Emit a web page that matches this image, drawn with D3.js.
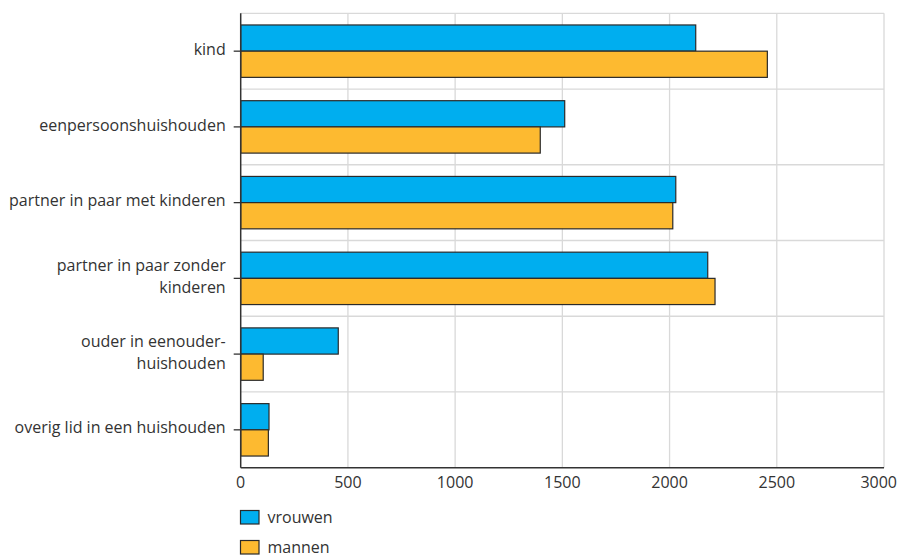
<!DOCTYPE html>
<html>
<head>
<meta charset="utf-8">
<script src="https://cdn.jsdelivr.net/npm/d3@7"></script>
<style>
  html, body { margin: 0; padding: 0; background: #fff; }
  svg { display: block; font-family: "Open Sans", "Noto Sans", sans-serif; }
</style>
</head>
<body>
<svg id="chart" width="899" height="557"></svg>
<script>
const categories = [
  "kind",
  "eenpersoonshuishouden",
  "partner in paar met kinderen",
  "partner in paar zonder\nkinderen",
  "ouder in eenouder-\nhuishouden",
  "overig lid in een huishouden"
];
const seriesNames = ["vrouwen", "mannen"];
const vrouwen = [2122, 1511, 2029, 2178, 455, 132];
const mannen  = [2456, 1397, 2015, 2212, 105, 129];
const xTicks = [0, 500, 1000, 1500, 2000, 2500, 3000];
const colors = ["#00AEEF", "#FDBA30"];

const svg = d3.select("#chart");
const plotL = 240.7, plotR = 884, plotT = 13.3, plotB = 467.7;

const x = d3.scaleLinear().domain([0, 3000]).range([plotL, plotR]);
const pInner = 0.308;
const y = d3.scaleBand().domain(categories).range([plotT, plotB])
  .paddingInner(pInner).paddingOuter(pInner / 2);
const ySub = d3.scaleBand().domain(seriesNames).range([0, y.bandwidth()]);

// gridlines
const grid = svg.append("g");
grid.selectAll("line.v").data(xTicks.slice(1)).join("line")
  .attr("x1", d => x(d)).attr("x2", d => x(d))
  .attr("y1", plotT).attr("y2", plotB)
  .attr("stroke", "#d9d9d9").attr("stroke-width", 1.3);
const boundaries = categories.map(c => y(c) - y.step() * pInner / 2);
grid.selectAll("line.h").data(boundaries).join("line")
  .attr("x1", plotL).attr("x2", plotR)
  .attr("y1", d => d).attr("y2", d => d)
  .attr("stroke", "#d9d9d9").attr("stroke-width", 1.3);

// bars
const data = categories.map((c, i) => ({ c, values: [vrouwen[i], mannen[i]] }));
const groups = svg.append("g").selectAll("g").data(data).join("g")
  .attr("transform", d => `translate(0,${y(d.c)})`);
groups.selectAll("rect").data(d => d.values.map((v, k) => ({ v, k })))
  .join("rect")
  .attr("x", x(0))
  .attr("y", d => ySub(seriesNames[d.k]))
  .attr("width", d => x(d.v) - x(0))
  .attr("height", ySub.bandwidth())
  .attr("fill", d => colors[d.k])
  .attr("stroke", "#2a2a2a").attr("stroke-width", 1.2);

// axes lines
svg.append("line").attr("x1", plotL).attr("x2", plotL).attr("y1", plotT).attr("y2", plotB)
  .attr("stroke", "#333").attr("stroke-width", 1.5);
svg.append("line").attr("x1", plotL).attr("x2", plotR).attr("y1", plotB).attr("y2", plotB)
  .attr("stroke", "#333").attr("stroke-width", 1.5);

// y ticks & labels
const yAxis = svg.append("g");
categories.forEach(c => {
  const cy = y(c) + y.bandwidth() / 2;
  yAxis.append("line").attr("x1", plotL - 7).attr("x2", plotL).attr("y1", cy).attr("y2", cy)
    .attr("stroke", "#333").attr("stroke-width", 1.3);
  const lines = c.split("\n");
  const lh = 21.7;
  const t = yAxis.append("text").attr("text-anchor", "end").attr("fill", "#333")
    .attr("font-size", 16);
  lines.forEach((ln, i) => {
    t.append("tspan").attr("x", plotL - 15)
      .attr("y", cy - 2 + (i - (lines.length - 1) / 2) * lh)
      .attr("dy", "0.35em").text(ln);
  });
});

// x tick labels
const lastTick = xTicks[xTicks.length - 1];
svg.append("g").selectAll("text").data(xTicks).join("text")
  .attr("x", d => d === lastTick ? 897 : x(d)).attr("y", 488)
  .attr("text-anchor", d => d === lastTick ? "end" : "middle")
  .attr("fill", "#333").attr("font-size", 16)
  .text(d => d);

// legend
const legend = svg.append("g");
seriesNames.forEach((s, i) => {
  const ly = 510.5 + i * 30;
  legend.append("rect").attr("x", 240.5).attr("y", ly).attr("width", 18.5).attr("height", 13.5)
    .attr("fill", colors[i]).attr("stroke", "#2a2a2a").attr("stroke-width", 1.2);
  legend.append("text").attr("x", 267.5).attr("y", ly + 6.5).attr("dy", "0.35em")
    .attr("fill", "#333").attr("font-size", 16).text(s);
});
</script>
</body>
</html>
